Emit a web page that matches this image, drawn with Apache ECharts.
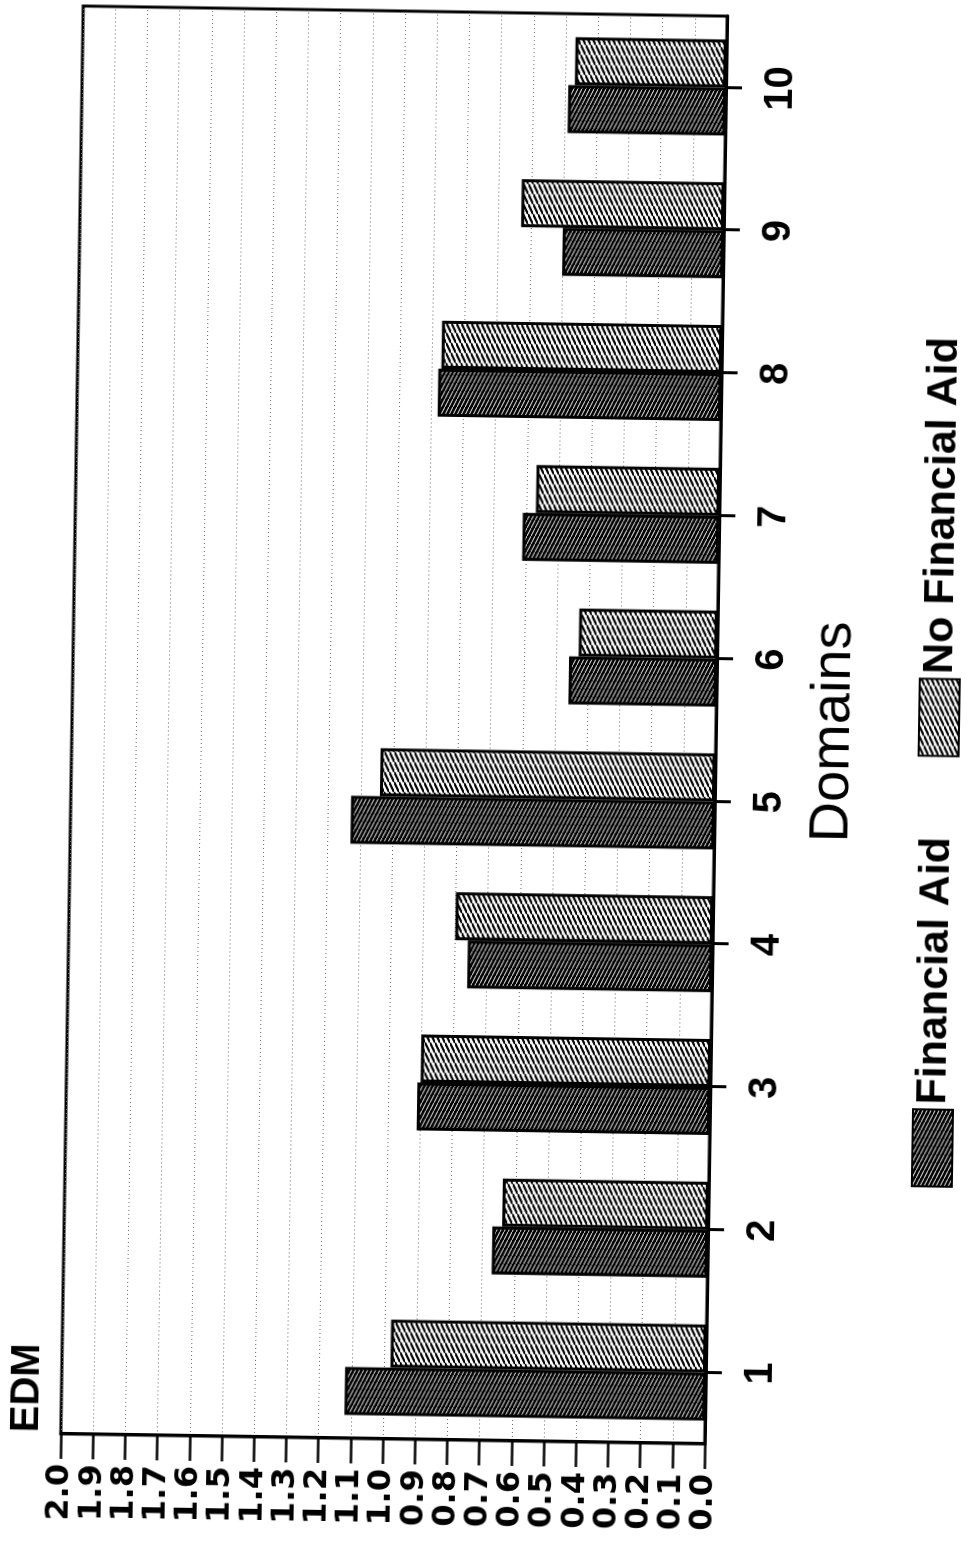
<!DOCTYPE html>
<html>
<head>
<meta charset="utf-8">
<script src="https://cdn.jsdelivr.net/npm/echarts@6/dist/echarts.min.js"></script>
<style>
  html, body { margin: 0; padding: 0; background: #fff; overflow: hidden; width: 973px; height: 1542px; }
  /* The chart is laid out landscape and turned a quarter turn (plus the slight tilt of the printed page). */
  #chart {
    position: absolute; left: 0; top: 0;
    width: 1542px; height: 973px;
    transform-origin: 817px 394px;
    transform: translate(-423px, 331px) rotate(-89.1deg);
  }
</style>
</head>
<body>
<div id="chart"></div>
<script>
// Domains 1..10 and the EDM of each group
const domains = ['1', '2', '3', '4', '5', '6', '7', '8', '9', '10'];
const financialAid   = [1.12, 0.67, 0.91, 0.76, 1.13, 0.46, 0.61, 0.88, 0.50, 0.49];
const noFinancialAid = [0.98, 0.64, 0.90, 0.80, 1.04, 0.43, 0.57, 0.87, 0.63, 0.47];
const seriesNames = ['Financial Aid', 'No Financial Aid'];
const edmMin = 0, edmMax = 2, edmStep = 0.1;

// Diagonal hatch tile used as a repeating fill
function hatch(w, h, bg, fg, lw, dir) {
  const c = document.createElement('canvas');
  c.width = w; c.height = h;
  const g = c.getContext('2d');
  g.fillStyle = bg; g.fillRect(0, 0, w, h);
  g.strokeStyle = fg; g.lineWidth = lw;
  g.beginPath();
  for (let k = -1; k <= 1; k++) {
    if (dir === '/') { g.moveTo(k * w, h); g.lineTo((k + 1) * w, 0); }
    else { g.moveTo(k * w, 0); g.lineTo((k + 1) * w, h); }
  }
  g.stroke();
  return { image: c, repeat: 'repeat' };
}

const darkHatch  = hatch(8, 4, '#000', '#fff', 1, '\\');
const lightHatch = hatch(10, 5, '#fff', '#000', 2.2, '/');

const chart = echarts.init(document.getElementById('chart'), null, { renderer: 'canvas' });

const option = {
  animation: false,
  backgroundColor: '#fff',
  title: {
    text: 'EDM', left: 104, top: 18, padding: 0,
    textStyle: { fontFamily: 'Liberation Sans', fontWeight: 'bold', fontSize: 40, lineHeight: 40, color: '#000' }
  },
  legend: {
    data: seriesNames,
    left: 363, top: 917, padding: 0,
    icon: 'rect', itemWidth: 77, itemHeight: 40, itemGap: 80,
    textStyle: { fontFamily: 'Liberation Sans', fontWeight: 'bold', fontSize: 43, lineHeight: 44, color: '#000' }
  },
  grid: {
    left: 103, right: 11, top: 72, bottom: 257,
    show: true, borderColor: '#000', borderWidth: 3, backgroundColor: 'transparent'
  },
  xAxis: {
    type: 'category',
    data: domains,
    name: 'Domains', nameLocation: 'middle', nameGap: 90,
    nameTextStyle: { fontFamily: 'Liberation Sans', fontSize: 56, lineHeight: 56, color: '#000' },
    axisLine: { show: true, lineStyle: { color: '#000', width: 3 } },
    axisTick: { show: true, alignWithLabel: true, length: 16, lineStyle: { color: '#000', width: 3 } },
    axisLabel: { margin: 35, fontFamily: 'Liberation Sans', fontWeight: 'bold', fontSize: 40, lineHeight: 40, color: '#000' },
    splitLine: { show: false }
  },
  yAxis: {
    type: 'value',
    min: edmMin, max: edmMax, interval: edmStep,
    axisLine: { show: true, lineStyle: { color: '#000', width: 3 } },
    axisTick: { show: true, length: 25, lineStyle: { color: '#000', width: 2.5 } },
    axisLabel: {
      showMinLabel: true, showMaxLabel: true,
      margin: 30, fontFamily: 'DejaVu Sans', fontWeight: 'bold', fontSize: 32, lineHeight: 24, color: '#000',
      formatter: v => Number(v).toFixed(1)
    },
    splitLine: { show: true, lineStyle: { color: '#666', type: [1, 3], width: 1 } }
  },
  series: [
    {
      name: seriesNames[0], type: 'bar', data: financialAid,
      barWidth: 48, barGap: '0%',
      itemStyle: { color: darkHatch, borderColor: '#000', borderWidth: 3 }
    },
    {
      name: seriesNames[1], type: 'bar', data: noFinancialAid,
      barWidth: 48, barGap: '0%',
      itemStyle: { color: lightHatch, borderColor: '#000', borderWidth: 3 }
    }
  ]
};

chart.setOption(option);
</script>
</body>
</html>
